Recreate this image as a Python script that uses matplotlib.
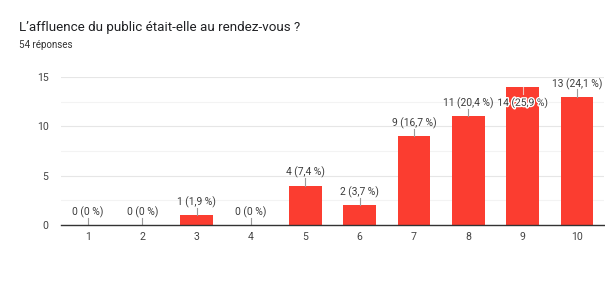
import matplotlib.pyplot as plt
import matplotlib.patheffects as pe
import numpy as np

plt.rcParams['font.family'] = ['Roboto', 'DejaVu Sans']

CATEGORIES = ["1", "2", "3", "4", "5", "6", "7", "8", "9", "10"]
COUNTS = [0, 0, 1, 0, 4, 2, 9, 11, 14, 13]
PERCENTS = ["0", "0", "1,9", "0", "7,4", "3,7", "16,7", "20,4", "25,9", "24,1"]
TITLE = "L’affluence du public était-elle au rendez-vous ?"
SUBTITLE = "54 réponses"
Y_TICKS = [0, 5, 10, 15]

BAR_COLOR = "#fb3d30"
TEXT_COLOR = "#3c3c3c"
Y_MAX = 15


def main():
    fig = plt.figure(figsize=(6.05, 2.87), dpi=100)
    ax = fig.add_axes([61 / 605, 1 - 225 / 287, 543 / 605, 148 / 287])

    x = np.arange(len(CATEGORIES))
    ax.bar(x, COUNTS, width=0.6, color=BAR_COLOR, zorder=3)

    # value labels with a short leader line; labels that would leave the
    # plot area go inside the bar instead
    for xi, c, p in zip(x, COUNTS, PERCENTS):
        label = f"{c} ({p} %)"
        if c + 1.3 <= Y_MAX:
            ax.plot([xi, xi], [c, c + 0.75], color="#9a9a9a", lw=0.8, zorder=4)
            ax.text(xi, c + 1.3, label, ha="center", va="center",
                    fontsize=7.4, color=TEXT_COLOR, zorder=5)
        else:
            ax.plot([xi, xi], [c, c - 0.75], color="#f2c4c0", lw=0.8, zorder=4)
            ax.text(xi, c - 1.6, label, ha="center", va="center",
                    fontsize=7.4, color=TEXT_COLOR, zorder=5,
                    path_effects=[pe.withStroke(linewidth=2, foreground="white")])

    ax.set_xlim(-0.5, len(CATEGORIES) - 0.5)
    ax.set_ylim(0, Y_MAX)
    ax.set_xticks(x)
    ax.set_xticklabels(CATEGORIES)
    ax.set_yticks(Y_TICKS)
    ax.set_yticks([2.5, 7.5, 12.5], minor=True)
    ax.tick_params(axis="both", which="both", length=0, labelsize=7.6, colors="#444444")
    ax.tick_params(axis="x", pad=5)
    ax.tick_params(axis="y", pad=9)
    ax.grid(axis="y", which="major", color="#e6e6e6", lw=0.8, zorder=0)
    ax.grid(axis="y", which="minor", color="#f3f3f3", lw=0.8, zorder=0)
    for side in ["top", "right", "left"]:
        ax.spines[side].set_visible(False)
    ax.spines["bottom"].set_color("#333333")
    ax.spines["bottom"].set_linewidth(1.0)
    ax.spines["bottom"].set_zorder(6)

    fig.text(19 / 605, 1 - 28 / 287, TITLE, fontsize=9.6, color="#202124", va="center")
    fig.text(19 / 605, 1 - 45 / 287, SUBTITLE, fontsize=7.0, color="#333333", va="center")

    fig.savefig("out.png", dpi=100)


if __name__ == "__main__":
    main()
